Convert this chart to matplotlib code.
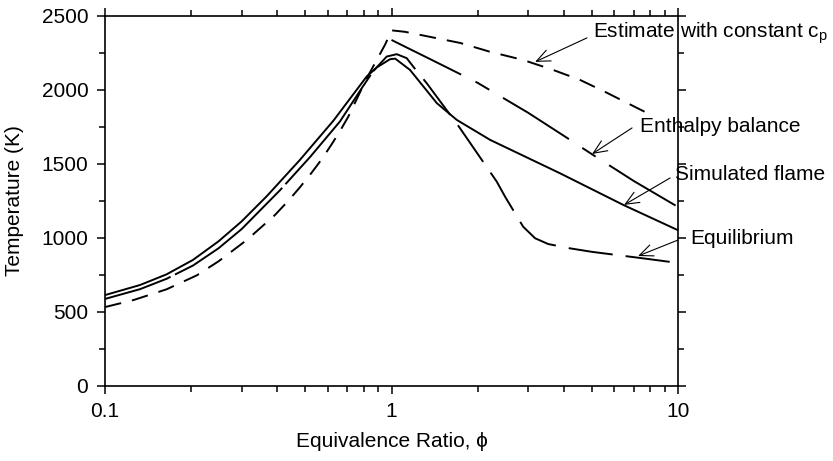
import numpy as np
import matplotlib
matplotlib.use("Agg")
import matplotlib.pyplot as plt
from matplotlib.ticker import FixedLocator, NullFormatter

plt.rcParams['font.family'] = ['Liberation Sans', 'DejaVu Sans']
plt.rcParams['lines.scale_dashes'] = False

# simulated flame (solid)
sim_phi = [0.1, 0.1325, 0.164, 0.203, 0.249, 0.3, 0.367, 0.479, 0.627, 0.819,
           0.889, 0.988, 1.03, 1.16, 1.44, 1.69, 2.21, 3.87, 6.44, 10]
sim_T = [612, 680, 752, 850, 975, 1110, 1280, 1525, 1790, 2088,
         2150, 2205, 2209, 2133, 1908, 1795, 1660, 1435, 1221, 1050]

# equilibrium (long dash)
eq_phi = [0.1, 0.1325, 0.164, 0.203, 0.249, 0.3, 0.408, 0.52, 0.661, 0.797,
          0.864, 0.962, 1.043, 1.13, 1.21, 1.327, 1.711, 1.85, 2.33, 2.49,
          2.88, 3.17, 3.52, 4.19, 5.01, 7.85, 10]
eq_T = [586, 652, 722, 812, 928, 1058, 1320, 1545, 1785, 2025,
        2125, 2223, 2239, 2212, 2138, 2043, 1755, 1660, 1378, 1277,
        1074, 996, 957, 928, 904, 856, 829]

# estimate with constant cp (short dash)
est_phi = [0.1, 0.126, 0.164, 0.209, 0.249, 0.313, 0.392, 0.436, 0.479, 0.527,
           0.571, 0.618, 0.661, 0.707, 0.819, 0.95, 1.0, 1.115, 1.735, 2.21,
           2.88, 3.66, 4.54, 5.65, 7.19, 7.67]
est_T = [531, 579, 651, 745, 840, 985, 1153, 1248, 1340, 1440,
         1530, 1630, 1720, 1818, 2075, 2304, 2400, 2390, 2315, 2255,
         2200, 2133, 2066, 1978, 1876, 1849]

# enthalpy balance (long-short dash)
enth_phi = [1.0, 1.5, 2, 3, 4, 5, 7, 10]
enth_T = [2335, 2166, 2045, 1843, 1687, 1564, 1383, 1207]

# annotations: label, text position, arrow tail, arrow head
notes = [
    ('Estimate with constant c$_\\mathregular{p}$', (5.05, 2383), (4.81, 2349), (3.17, 2187)),
    ('Enthalpy balance', (7.37, 1748), (6.91, 1741), (5.01, 1565)),
    ('Simulated flame', (9.76, 1424), (9.38, 1403), (6.48, 1221)),
    ('Equilibrium', (11.0, 991), (10.0, 984), (7.25, 876)),
]

fig = plt.figure(figsize=(8.33, 4.61), dpi=100)
ax = fig.add_axes([0.126, 0.1633, 0.688, 0.803])

lw = 1.4
ax.plot(sim_phi, sim_T, color='k', lw=lw)
k = eq_phi.index(1.21)
ax.plot(eq_phi[:k + 1], eq_T[:k + 1], color='k', lw=lw, linestyle=(50, (100, 3.5)))
ax.plot(eq_phi[k:], eq_T[k:], color='k', lw=lw, linestyle=(32, (32, 9.4)))
ax.plot(est_phi, est_T, color='k', lw=lw, linestyle=(0, (12, 8)))
ax.plot(enth_phi, enth_T, color='k', lw=lw, linestyle=(0, (56, 11.5, 11.5, 11.5)))

fs = 15
for label, tpos, tail, head in notes:
    ax.text(tpos[0], tpos[1], label, fontsize=fs, ha='left', va='center')
    ax.annotate('', xy=head, xytext=tail, annotation_clip=False,
                arrowprops=dict(arrowstyle='->,head_length=0.65,head_width=0.28',
                                lw=0.8, color='k', mutation_scale=15,
                                shrinkA=0, shrinkB=0))

ax.set_xscale('log')
ax.set_xlim(0.1, 10)
ax.set_ylim(0, 2500)
ax.xaxis.set_major_locator(FixedLocator([0.1, 1, 10]))
ax.set_xticklabels(['0.1', '1', '10'])
minors = [m * d for d in (0.1, 1) for m in range(2, 10)]
ax.xaxis.set_minor_locator(FixedLocator(minors))
ax.xaxis.set_minor_formatter(NullFormatter())
ax.set_yticks(np.arange(0, 2501, 500))
ax.set_yticks(np.arange(250, 2500, 500), minor=True)

ax.tick_params(which='both', direction='out', top=True, right=True,
               labelsize=fs, width=1.1, color='k')
ax.tick_params(which='major', length=6, pad=6)
ax.tick_params(which='minor', length=4.5)
for s in ax.spines.values():
    s.set_linewidth(1.2)

ax.set_xlabel('Equivalence Ratio, \u03d5', fontsize=fs)
ax.set_ylabel('Temperature (K)', fontsize=fs)
ax.xaxis.set_label_coords(0.5, -0.125)
ax.yaxis.set_label_coords(-0.141, 0.5)

fig.savefig('out.png', dpi=100)
